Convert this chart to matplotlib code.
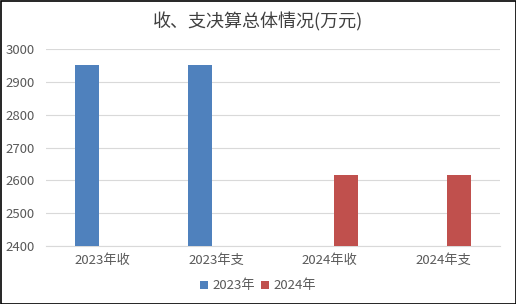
import numpy as np
import matplotlib
matplotlib.use("Agg")
import matplotlib.pyplot as plt
from matplotlib.patches import Rectangle

plt.rcParams['font.family'] = ['Noto Sans CJK SC', 'DejaVu Sans']

categories = ["2023年收", "2023年支", "2024年收", "2024年支"]
series_names = ["2023年", "2024年"]
values_2023 = [2952, 2952, np.nan, np.nan]
values_2024 = [np.nan, np.nan, 2617, 2617]
colors = ["#4F81BD", "#C0504D"]
title = "收、支决算总体情况(万元)"

fig = plt.figure(figsize=(5.16, 3.04), dpi=100)
ax = fig.add_axes([46/516, 1-246/304, (500-46)/516, (246-49.3)/304])

x = np.arange(len(categories))
w = 0.21
off = 0.14
ax.bar(x - off, values_2023, w, color=colors[0], label=series_names[0], zorder=3)
ax.bar(x + off, values_2024, w, color=colors[1], label=series_names[1], zorder=3)

ax.set_xlim(-0.5, len(categories) - 0.5)
ax.set_ylim(2400, 3000)
ax.set_yticks(np.arange(2400, 3001, 100))
ax.set_xticks(x)
ax.set_xticklabels(categories)
ax.grid(axis='y', color='#D9D9D9', linewidth=0.8, zorder=0)
for s in ['top', 'right', 'left']:
    ax.spines[s].set_visible(False)
ax.spines['bottom'].set_color('#D9D9D9')
ax.tick_params(axis='both', length=0, labelsize=9.5, colors='#595959')
ax.tick_params(axis='y', pad=8)
ax.tick_params(axis='x', pad=6)

fig.text(0.5, 1-22/304, title, ha='center', va='center', fontsize=13, color='#404040')

fig.legend(*ax.get_legend_handles_labels(), loc='center', bbox_to_anchor=(258/516, 1-286/304),
           ncol=2, frameon=False, fontsize=9.5, handlelength=0.6, handleheight=0.6,
           handletextpad=0.3, columnspacing=0.5, labelcolor='#595959')

fig.patches.append(Rectangle((0.5/516, 0.5/304), 1-1/516, 1-1/304, transform=fig.transFigure,
                             fill=False, edgecolor='black', linewidth=1.2))
fig.savefig("out.png", dpi=100)
